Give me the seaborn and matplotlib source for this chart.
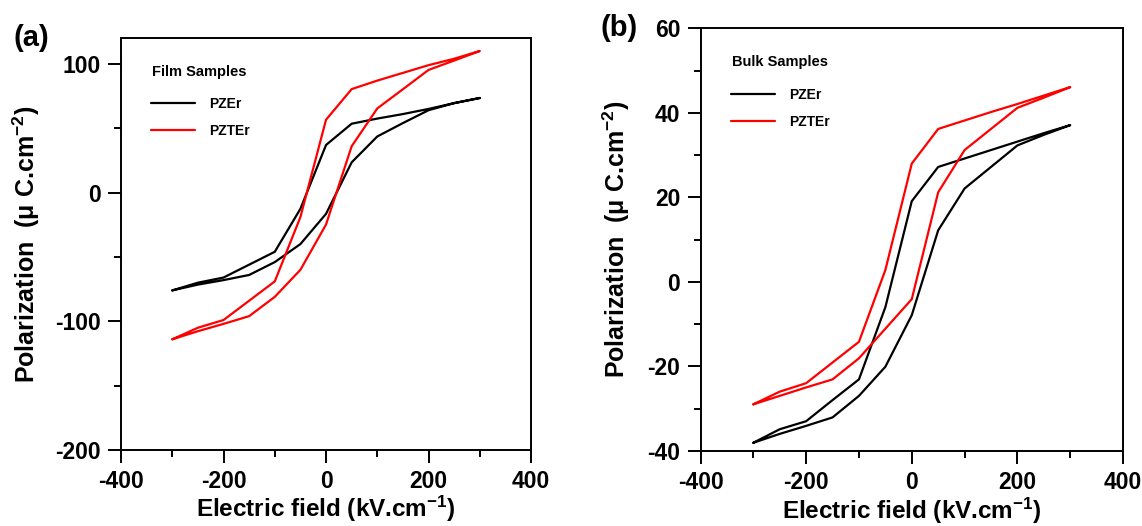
import matplotlib as mpl
mpl.use('Agg')
import matplotlib.pyplot as plt
from matplotlib.ticker import MultipleLocator
import seaborn as sns
import pandas as pd

# field sweep: -300 -> 300 (upper branch) then back 250 -> -300 (lower branch)
e_up = [-300, -250, -200, -150, -100, -50, 0, 50, 100, 150, 200, 250, 300]
e_down = [250, 200, 150, 100, 50, 0, -50, -100, -150, -200, -250, -300]

# film samples (uC/cm2)
film_pzer_up = [-76, -70, -66, -56, -46, -12.6, 37, 53.5, 57.5, 61, 65, 69.5, 73.5]
film_pzer_down = [69.5, 64, 54, 43.6, 23.5, -16.5, -40, -54, -64, -68, -71.5, -76]
film_pzter_up = [-114, -105, -99, -84, -69, -19, 56.6, 80.4, 87, 93, 99, 104, 110]
film_pzter_down = [102.6, 95.3, 80.3, 65.4, 36, -24.8, -60, -81, -96, -102, -107.7, -114]

# bulk samples (uC/cm2)
bulk_pzer_up = [-38.1, -34.9, -33, -28, -23.1, -6, 19.1, 27.2, 29.2, 31.2, 33.2, 35.2, 37.1]
bulk_pzer_down = [34.8, 32.3, 27.2, 22.1, 12.2, -7.9, -20.1, -27, -32.1, -34.1, -36, -38.1]
bulk_pzter_up = [-29, -26, -24, -19.1, -14.2, 2.8, 28, 36.2, 38.2, 40.2, 42.1, 44.1, 46.1]
bulk_pzter_down = [43.6, 41.2, 36.2, 31.2, 21.2, -4.1, -11.1, -18.1, -23.1, -25, -27, -29]

samples = ['PZEr', 'PZTEr']
palette = {'PZEr': '#000000', 'PZTEr': '#FF0000'}


def loop_df(pzer_up, pzer_down, pzter_up, pzter_down):
    e = e_up + e_down
    return pd.DataFrame({
        'E': e + e,
        'P': pzer_up + pzer_down + pzter_up + pzter_down,
        'sample': ['PZEr'] * len(e) + ['PZTEr'] * len(e),
    })


film_df = loop_df(film_pzer_up, film_pzer_down, film_pzter_up, film_pzter_down)
bulk_df = loop_df(bulk_pzer_up, bulk_pzer_down, bulk_pzter_up, bulk_pzter_down)

sns.set_style('ticks')
plt.rcParams['font.family'] = ['Liberation Sans', 'DejaVu Sans']
plt.rcParams['font.weight'] = 'bold'
plt.rcParams['axes.labelweight'] = 'bold'
plt.rcParams['axes.unicode_minus'] = False
for k in ['text.color', 'axes.labelcolor', 'axes.edgecolor', 'xtick.color', 'ytick.color']:
    plt.rcParams[k] = 'black'
plt.rcParams['mathtext.fontset'] = 'custom'
plt.rcParams['mathtext.rm'] = 'Liberation Sans:bold'
plt.rcParams['mathtext.it'] = 'Liberation Sans:bold'
plt.rcParams['mathtext.bf'] = 'Liberation Sans:bold'

fig = plt.figure(figsize=(11.42, 5.26), dpi=100)
ax_a = fig.add_axes([0.106, 0.1445, 0.359, 0.783])
ax_b = fig.add_axes([0.6134, 0.143, 0.370, 0.803])

panels = [
    (ax_a, film_df, 'Film Samples', (-200, 120), 100, 50, (0.0756, 0.9175), (0.072, 0.858), -0.193),
    (ax_b, bulk_df, 'Bulk Samples', (-40, 60), 20, 10, (0.0738, 0.9195), (0.072, 0.859), -0.162),
]

for ax, df, title, ylim, ymaj, ymin, title_pos, leg_pos, ylab_x in panels:
    sns.lineplot(data=df, x='E', y='P', hue='sample', hue_order=samples,
                 palette=palette, sort=False, estimator=None, linewidth=1.6, ax=ax)
    ax.set_xlim(-400, 400)
    ax.set_ylim(*ylim)
    ax.xaxis.set_major_locator(MultipleLocator(200))
    ax.xaxis.set_minor_locator(MultipleLocator(100))
    ax.yaxis.set_major_locator(MultipleLocator(ymaj))
    ax.yaxis.set_minor_locator(MultipleLocator(ymin))
    ax.tick_params(which='major', length=9.5, width=1.4, labelsize=16.5, pad=5)
    ax.tick_params(which='minor', length=5, width=1.4)
    for s in ax.spines.values():
        s.set_linewidth(1.4)
    for lab in ax.get_xticklabels() + ax.get_yticklabels():
        lab.set_fontweight('bold')
    ax.set_xlabel('Electric field (kV.cm$^{-1}$)', fontsize=17.5, fontweight='bold')
    ax.set_ylabel('Polarization  (\u03bc C.cm$^{-2}$)', fontsize=18, fontweight='bold')
    ax.xaxis.set_label_coords(0.5, -0.106)
    ax.yaxis.set_label_coords(ylab_x, 0.5)
    ax.text(title_pos[0], title_pos[1], title, transform=ax.transAxes,
            fontsize=10.5, fontweight='bold', ha='left', va='center')
    leg = ax.legend(loc='upper left', bbox_to_anchor=leg_pos,
                    frameon=False, borderpad=0, borderaxespad=0,
                    handlelength=3.2, handletextpad=1.0, labelspacing=0.95,
                    prop={'weight': 'bold', 'size': 10})
    for h in leg.get_lines():
        h.set_linewidth(1.6)

fig.text(31 / 1142, 1 - 38 / 526, '(a)', fontsize=21, fontweight='bold', ha='center', va='center')
fig.text(619 / 1142, 1 - 28 / 526, '(b)', fontsize=21, fontweight='bold', ha='center', va='center')

fig.savefig('out.png', dpi=100)
